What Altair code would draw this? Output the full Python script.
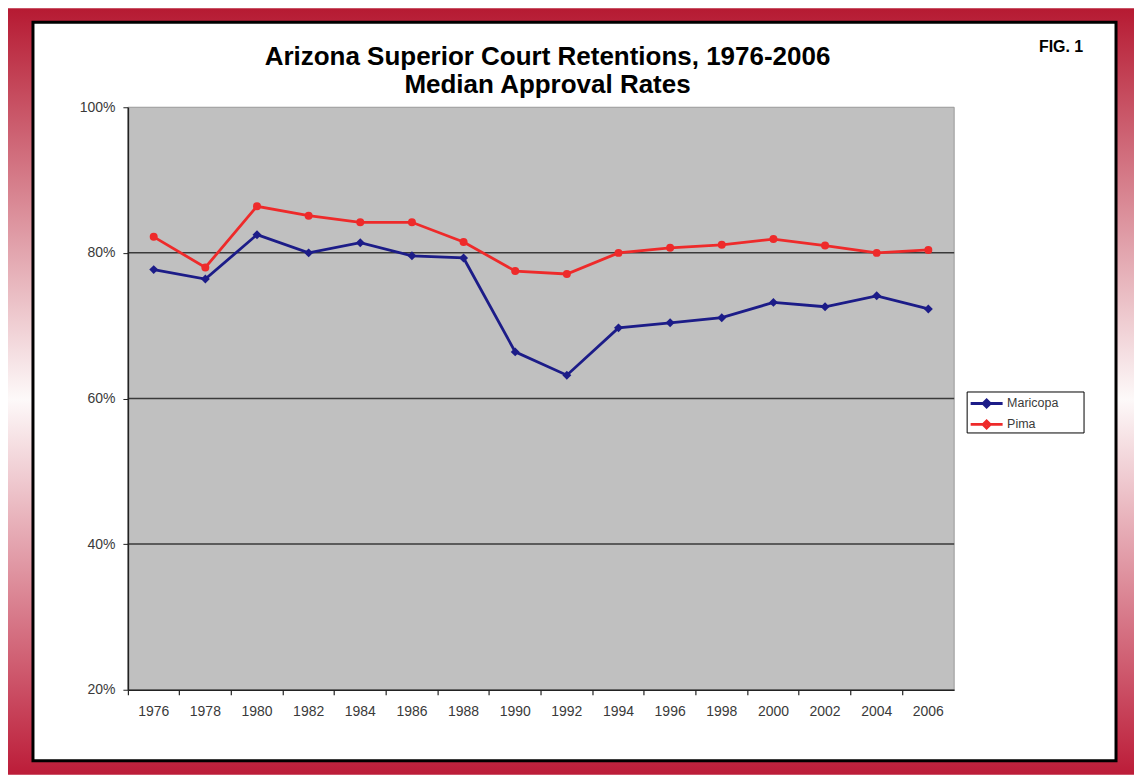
import altair as alt
import pandas as pd

years = ["1976", "1978", "1980", "1982", "1984", "1986", "1988", "1990",
         "1992", "1994", "1996", "1998", "2000", "2002", "2004", "2006"]
maricopa = [77.7, 76.4, 82.5, 80.0, 81.4, 79.6, 79.3, 66.4,
            63.2, 69.7, 70.4, 71.1, 73.2, 72.6, 74.1, 72.3]
pima = [82.2, 78.0, 86.4, 85.1, 84.2, 84.2, 81.5, 77.5,
        77.1, 80.0, 80.7, 81.1, 81.9, 81.0, 80.0, 80.4]
series_names = ["Maricopa", "Pima"]
series_colors = ["#1c1c88", "#ee2a2a"]
y_ticks = [20, 40, 60, 80, 100]
grid_values = [40, 60, 80]
title_lines = ["Arizona Superior Court Retentions, 1976-2006", "Median Approval Rates"]
fig_label = "FIG. 1"

rows = []
for name, vals in zip(series_names, [maricopa, pima]):
    for yr, v in zip(years, vals):
        rows.append({"year": yr, "series": name, "value": v})
df = pd.DataFrame(rows)
df_mar = df[df["series"] == "Maricopa"]
df_pim = df[df["series"] == "Pima"]

W, H = 827, 583
FONT = "Liberation Sans"
LABEL_COLOR = "#3a3a3a"

one = alt.Data(values=[{}])

frame = alt.Chart(one).mark_rect(
    color=alt.Gradient(
        gradient="linear", x1=0, x2=0, y1=0, y2=1,
        stops=[alt.GradientStop(offset=0, color="#b61a32"),
               alt.GradientStop(offset=0.51, color="#fdf9f9"),
               alt.GradientStop(offset=1, color="#bc1c38")]
    )
).encode(x=alt.value(-120), x2=alt.value(1007), y=alt.value(-99), y2=alt.value(668))

panel = alt.Chart(one).mark_rect(fill="white", stroke="black", strokeWidth=3).encode(
    x=alt.value(-95), x2=alt.value(989), y=alt.value(-85), y2=alt.value(654))

plotbg = alt.Chart(one).mark_rect(fill="#c0c0c0", stroke="#999999", strokeWidth=1).encode(
    x=alt.value(0), x2=alt.value("width"), y=alt.value(0), y2=alt.value("height"))

legend_box = alt.Chart(one).mark_rect(fill="white", stroke="black", strokeWidth=1).encode(
    x=alt.value(840), x2=alt.value(957), y=alt.value(285), y2=alt.value(326))

yscale = alt.Scale(domain=[20, 100], nice=False, zero=False)
xscale = alt.Scale(type="band", domain=years, paddingInner=0, paddingOuter=0)
cscale = alt.Scale(domain=series_names, range=series_colors)

yaxis = alt.Axis(title=None, values=y_ticks, labelExpr="datum.value + '%'",
                 grid=False, tickSize=5, tickColor="#222222",
                 labelPadding=8, labelFont=FONT, labelFontSize=14,
                 labelColor=LABEL_COLOR, domainColor="#222222", domainWidth=1.5,
                 zindex=1)

grid = alt.Chart(pd.DataFrame({"v": grid_values})).mark_rule(
    color="#3a3a3a", strokeWidth=1.5).encode(
    y=alt.Y("v:Q", scale=yscale, axis=yaxis))

lines = alt.Chart(df).mark_line(strokeWidth=2.8).encode(
    x=alt.X("year:O", scale=xscale, sort=years,
            axis=alt.Axis(title=None, orient="bottom", ticks=False, tickSize=0,
                          labelPadding=15, labelFont=FONT, labelFontSize=14,
                          labelColor=LABEL_COLOR, labelAngle=0, domainColor="#222222",
                          domainWidth=1.5, zindex=1)),
    y=alt.Y("value:Q", scale=yscale, axis=yaxis),
    color=alt.Color("series:N", scale=cscale,
                    legend=alt.Legend(title=None, orient="none", legendX=840, legendY=284,
                                      padding=1,
                                      symbolType="M-1.6,0L1.6,0M0,-0.36L0.36,0L0,0.36L-0.36,0Z",
                                      symbolSize=400, symbolStrokeWidth=2.8,
                                      symbolOffset=7, labelOffset=9,
                                      labelFont=FONT, labelFontSize=12.5, labelColor=LABEL_COLOR,
                                      rowPadding=0)),
)

pts_mar = alt.Chart(df_mar).mark_point(filled=True, size=80, opacity=1, shape="diamond",
                                       color=series_colors[0]).encode(
    x=alt.X("year:O", scale=xscale, sort=years,
            axis=alt.Axis(title=None, orient="bottom", labels=False, ticks=True,
                          tickSize=5, tickColor="#222222", tickWidth=1.2,
                          bandPosition=0, domain=False, zindex=1)),
    y=alt.Y("value:Q", scale=yscale, axis=yaxis),
)
pts_pim = alt.Chart(df_pim).mark_point(filled=True, size=64, opacity=1, shape="circle",
                                       color=series_colors[1]).encode(
    x=alt.X("year:O", scale=xscale, sort=years, axis=None),
    y=alt.Y("value:Q", scale=yscale, axis=yaxis),
)

t1 = alt.Chart(one).mark_text(font=FONT, fontSize=26, fontWeight="bold", color="black",
                              align="center", baseline="middle").encode(
    x=alt.value(420), y=alt.value(-50), text=alt.value(title_lines[0]))
t2 = alt.Chart(one).mark_text(font=FONT, fontSize=26, fontWeight="bold", color="black",
                              align="center", baseline="middle").encode(
    x=alt.value(420), y=alt.value(-22), text=alt.value(title_lines[1]))
t3 = alt.Chart(one).mark_text(font=FONT, fontSize=16, fontWeight="bold", color="black",
                              align="center", baseline="middle").encode(
    x=alt.value(934), y=alt.value(-60), text=alt.value(fig_label))

chart = alt.layer(frame, panel, plotbg, legend_box, grid, lines, pts_mar, pts_pim,
                  t1, t2, t3).resolve_axis(x="independent").properties(
    width=W, height=H,
    padding={"left": 120, "top": 99, "right": 180, "bottom": 85},
    autosize=alt.AutoSizeParams(type="none"),
).configure_view(stroke=None)

chart.save("out.html", embed_options={"renderer": "svg", "actions": False})
